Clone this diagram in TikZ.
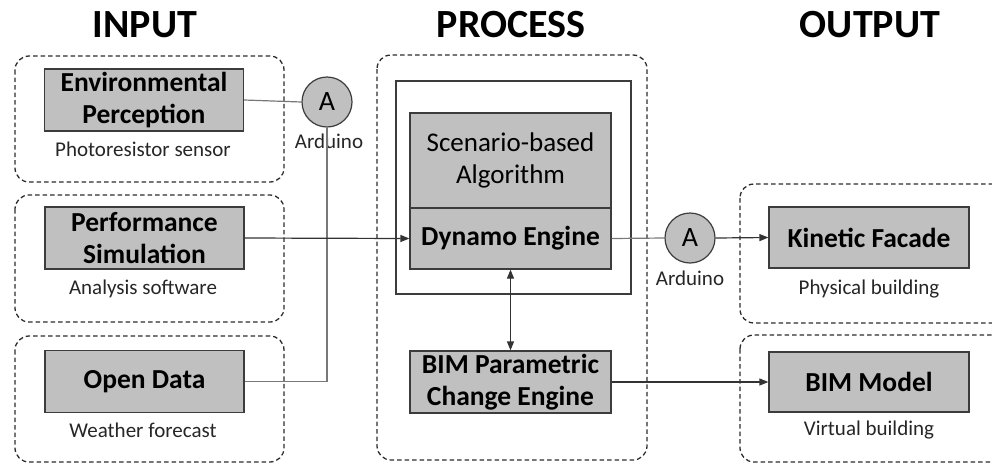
\documentclass[tikz,border=0pt]{standalone}
\usepackage{fontspec}
\setmainfont{Carlito}
\usetikzlibrary{arrows.meta}
\definecolor{boxfill}{RGB}{192,192,192}
\definecolor{boxline}{RGB}{60,60,60}
\definecolor{conn}{RGB}{120,120,120}
\definecolor{dashc}{RGB}{45,45,45}
\begin{document}
\begin{tikzpicture}[x=1pt,y=-1pt,
  gbox/.style={draw=boxline,fill=boxfill,line width=1.2pt,minimum width=199pt,minimum height=62pt,inner sep=0pt,align=center,font=\fontsize{27.5}{32}\selectfont\bfseries},
  circ/.style={circle,draw=boxline,fill=boxfill,line width=1.2pt,minimum size=50pt,inner sep=0pt,font=\fontsize{28}{30}\selectfont},
  grp/.style={draw=dashc,line width=1.3pt,dash pattern=on 4.5pt off 3pt,rounded corners=14pt},
  sub/.style={font=\fontsize{21}{24}\selectfont,text=black!85},
  title/.style={font=\fontsize{40}{44}\selectfont\bfseries,anchor=base},
  link/.style={draw=conn,line width=1.2pt},
  arr/.style={draw=black!80,line width=1.2pt,-{Triangle[length=9pt,width=7pt]}},
  darr/.style={draw=black!80,line width=1.2pt,{Triangle[length=9pt,width=7pt]}-{Triangle[length=9pt,width=7pt]}}
]
\useasboundingbox (0,0) rectangle (992,464);
% titles
\node[title] (tin) at (145,37) {INPUT};
\node[title] (tpr) at (511,37) {PROCESS};
\node[title] (tout) at (870,37) {OUTPUT};
% group frames
\draw[grp] (15,56) rectangle (284,182);
\draw[grp] (15,195) rectangle (284,322);
\draw[grp] (15,336) rectangle (284,462);
\draw[grp] (377,55) rectangle (647,460);
\draw[grp] (740,184) rectangle (1010,323);
\draw[grp] (740,335) rectangle (1010,462);
% outer solid box
\draw[draw=boxline,line width=1.2pt] (396,81) rectangle (631,294);
% input boxes
\node[gbox] (env) at (144,100) {Environmental\\Perception};
\node[sub] (envs) at (143,149) {Photoresistor sensor};
\node[gbox] (perf) at (144.5,238) {Performance\\Simulation};
\node[sub] (perfs) at (143,289) {Analysis software};
\node[gbox] (open) at (144.5,381.5) {Open Data};
\node[sub] (opens) at (143,430) {Weather forecast};
% process boxes
\node[gbox,minimum width=201pt,minimum height=95pt,font=\fontsize{27}{32}\selectfont] (scen) at (510.5,160.5) {Scenario-based\\Algorithm};
\node[gbox,minimum width=201pt,minimum height=61pt] (dyn) at (510.5,238.5) {Dynamo Engine};
\node[gbox,minimum width=201pt,minimum height=62pt] (bimp) at (510.5,382) {BIM Parametric\\Change Engine};
% output boxes
\node[gbox,minimum width=200pt,minimum height=61pt] (kin) at (869,237.5) {Kinetic Facade};
\node[sub] (kins) at (869,289) {Physical building};
\node[gbox,minimum width=200pt,minimum height=60pt] (bimm) at (869,382) {BIM Model};
\node[sub] (bimms) at (869,430) {Virtual building};
% arduino circles
\node[circ] (a1) at (327,102) {A};
\node[sub] (a1l) at (329,141) {Arduino};
\node[circ] (a2) at (690,238) {A};
\node[sub] (a2l) at (690,278) {Arduino};
% connectors
\draw[link] (env.east) -- (a1.west);
\draw[link] (a1.south) |- (open.east);
\draw[arr] (perf.east) -- (dyn.west);
\draw[link] (dyn.east) -- (a2.west);
\draw[arr] (a2.east) -- (kin.west);
\draw[darr] (dyn.south) -- (bimp.north);
\draw[arr] (bimp.east) -- (bimm.west);
\end{tikzpicture}
\end{document}
